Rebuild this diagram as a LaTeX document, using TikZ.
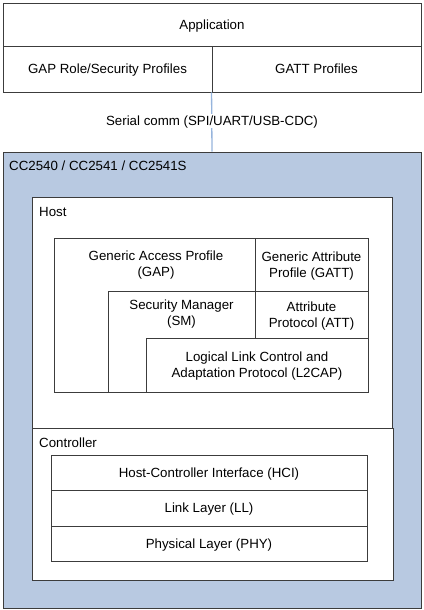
\documentclass[tikz,border=0pt]{standalone}
\usepackage{fontspec}
\setmainfont{Liberation Sans}
\usepackage{tikz}

\definecolor{chipblue}{RGB}{184,201,225}
\definecolor{linkblue}{RGB}{150,180,220}
\definecolor{edgegray}{RGB}{60,60,60}

\begin{document}
\begin{tikzpicture}[x=1pt,y=-1pt,
    box/.style={draw=edgegray,line width=0.9pt,fill=white,inner sep=0pt,text depth=0pt,
      font=\fontsize{13.3}{16.3}\selectfont,align=center},
    txt/.style={inner sep=0pt,text depth=0pt,font=\fontsize{13.3}{16.3}\selectfont,align=center},
    tag/.style={txt,anchor=west}]
    \useasboundingbox (0,0) rectangle (423,610);
    % host side
    \node[box,minimum width=418pt,minimum height=43pt] (app) at (212,24.5) {Application};
    \node[box,minimum width=209pt,minimum height=46pt] (gaprole) at (107.5,69) {GAP Role/Security Profiles};
    \node[box,minimum width=209pt,minimum height=46pt] (gattprof) at (316.5,69) {GATT Profiles};
    % chip
    \node[box,fill=chipblue,minimum width=418pt,minimum height=456pt] (chip) at (212,380) {};
    \draw[linkblue,line width=1.3pt] (gattprof.south west) -- (chip.north);
    \node[txt,fill=white,inner sep=2pt] (serial) at (212,121) {Serial comm (SPI/UART/USB-CDC)};
    \node[tag] (chipname) at (9,166) {CC2540 / CC2541 / CC2541S};
    % host
    \node[box,minimum width=360pt,minimum height=231pt] (host) at (212,312.5) {};
    \node[tag] (hostname) at (39,212) {Host};
    \node[box,minimum width=314pt,minimum height=153.5pt] (stack) at (211,315.25) {};
    \node[txt] (gap) at (156,264) {Generic Access Profile\\(GAP)};
    \node[box,minimum width=113pt,minimum height=52.5pt] (gatt) at (311.5,264.75) {Generic Attribute\\Profile (GATT)};
    \node[box,minimum width=113pt,minimum height=47pt] (att) at (311.5,314.5) {Attribute\\Protocol (ATT)};
    \node[box,minimum width=147pt,minimum height=101pt] (sm) at (181.5,341.5) {};
    \node[txt] (smtxt) at (181.5,312.5) {Security Manager\\(SM)};
    \node[box,minimum width=222pt,minimum height=54pt] (l2cap) at (257,365) {Logical Link Control and\\Adaptation Protocol (L2CAP)};
    % controller
    \node[box,minimum width=361pt,minimum height=152pt] (ctrl) at (212.5,504) {};
    \node[tag] (ctrlname) at (39,443) {Controller};
    \node[box,minimum width=316pt,minimum height=35pt] (hci) at (209,472.5) {Host-Controller Interface (HCI)};
    \node[box,minimum width=316pt,minimum height=36pt] (ll) at (209,508) {Link Layer (LL)};
    \node[box,minimum width=316pt,minimum height=35pt] (phy) at (209,543.5) {Physical Layer (PHY)};
\end{tikzpicture}
\end{document}
